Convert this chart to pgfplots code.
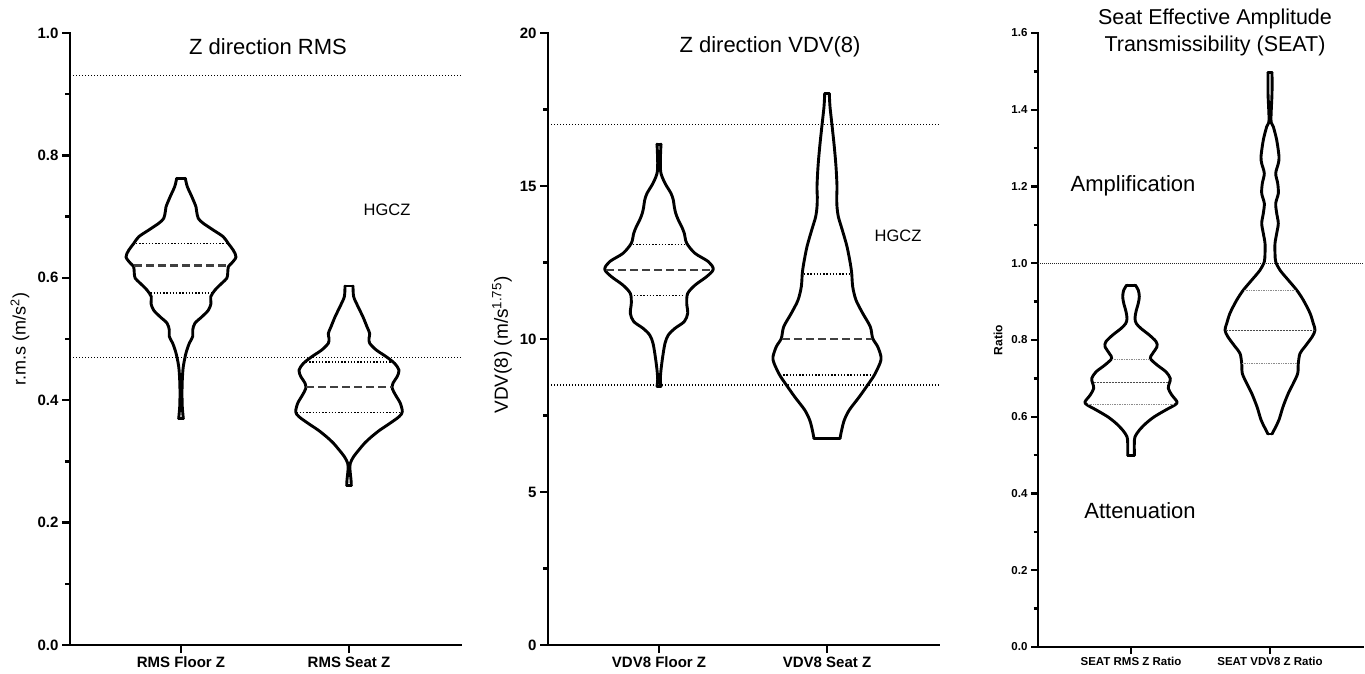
\documentclass[border=0pt]{standalone}
\usepackage{pgfplots}
\usepackage{pgfplotstable}
\pgfplotsset{compat=1.18}
\usepackage{fontspec}
\setmainfont{Liberation Sans}
\newcommand{\fs}[1]{\fontsize{#1}{#1}\selectfont}

% ---- violin outlines: y value, half width (pt) ----
\pgfplotstableread{
y w
0.7625 4.3
0.749 6.3
0.733 10.7
0.716 15
0.708 15.7
0.697 17.3
0.689 22.3
0.678 32.3
0.667 42.3
0.656 47.3
0.645 52.3
0.634 55
0.624 50.7
0.618 47.3
0.607 46.7
0.599 45.7
0.591 40.7
0.580 34
0.569 29.7
0.558 30
0.547 27.3
0.536 20.7
0.526 14
0.515 11.7
0.504 11.7
0.493 8.3
0.477 5
0.455 2.3
0.433 1.3
0.411 1
0.389 1.3
0.370 2.3
}\vRmsFloor

\pgfplotstableread{
y w
0.5866 4
0.569 4.7
0.553 9
0.536 14
0.520 18
0.509 20.7
0.501 20
0.493 20.7
0.482 27.3
0.471 37.3
0.460 45.7
0.449 50
0.438 48
0.428 44
0.419 43.3
0.408 46.7
0.395 51.3
0.381 53.3
0.373 50
0.362 40.7
0.351 30.7
0.340 22.3
0.330 15.7
0.319 10
0.308 4.7
0.297 1.3
0.286 1
0.270 2
0.261 2.3
}\vRmsSeat

\pgfplotstableread{
y w
16.37 2
16.18 1.7
15.74 1.3
15.41 2
15.09 6
14.76 12
14.54 14.3
14.32 15.3
14.11 16.7
13.89 19.3
13.67 22.7
13.45 25.3
13.13 27.7
12.80 36
12.53 49.3
12.28 54.3
12.04 47.7
11.76 36
11.49 28.7
11.17 27.7
10.84 28.7
10.57 25.3
10.35 16
10.13 9.3
9.86 6
9.42 3.7
8.99 2
8.66 1.3
8.46 2
}\vVdvFloor

\pgfplotstableread{
y w
18.01 2.3
17.59 3
16.99 5
16.28 7.3
15.63 9
14.98 10
14.65 9.7
14.32 10
14.00 11.3
13.56 15.3
13.02 20
12.47 23.3
12.15 24.7
11.71 25.7
11.27 29
10.84 35.7
10.40 43.3
10.02 45.7
9.75 50.7
9.42 54
9.21 53
8.82 47.3
8.50 40.7
8.11 32.3
7.68 22.3
7.35 17.3
7.03 14.7
6.75 13
}\vVdvSeat

\pgfplotstableread{
y w
0.943 4.3
0.930 7.3
0.913 8.3
0.896 7.3
0.874 5
0.856 4
0.843 5.3
0.830 10
0.813 18.3
0.796 25
0.783 26
0.765 21.7
0.752 19.3
0.735 26
0.717 35
0.700 39.3
0.687 38.3
0.674 37.3
0.657 40.7
0.639 46
0.631 44
0.618 35
0.600 23.3
0.583 15
0.565 8.3
0.548 4
0.531 3.3
0.513 3.3
0.500 3.3
}\vSeatRms

\pgfplotstableread{
y w
1.497 2
1.443 2
1.373 1
1.356 3.3
1.321 6.7
1.278 9
1.260 8.3
1.234 5.7
1.208 7.7
1.182 8.3
1.156 5.7
1.130 6.7
1.104 8.3
1.078 6.7
1.052 5
1.026 5
1.004 5.7
0.982 10
0.956 18.3
0.930 26.7
0.904 33.3
0.870 40
0.843 43.3
0.826 45
0.809 42.3
0.783 35
0.765 30
0.739 28.3
0.713 27.7
0.687 23.3
0.661 18.3
0.626 13
0.592 9
0.570 5
0.555 2
}\vSeatVdv

\pgfplotsset{
 vpanel/.style={
  scale only axis, anchor=south west,
  axis lines=left, axis line style={-, line width=2.8pt, line cap=rect},
  enlargelimits=false, clip=false,
  tick align=outside, tick style={black, line width=2.4pt},
  major tick length=8pt, minor tick length=5pt,
  minor y tick num=1,
  ticklabel style={font=\bfseries\fs{15}},
  xmin=0,
 },
 vio/.style={black, line width=2.9pt, smooth, tension=0.5, line join=round, line cap=round},
 edge/.style={black, line width=2.9pt, line cap=round},
 refl/.style={black, line width=1.3pt, dash pattern=on 1.2pt off 1.8pt},
 med/.style={black!75, line width=2.2pt, dash pattern=on 8pt off 4pt},
 qrt/.style={black, line width=1.6pt, dash pattern=on 1.4pt off 1.8pt},
 refthin/.style={black!85, line width=1.1pt, dash pattern=on 0.9pt off 1.1pt},
 medthin/.style={black!70, line width=1.1pt, dash pattern=on 2pt off 1pt},
 qrtthin/.style={black!45, line width=1pt, dash pattern=on 1pt off 0.7pt},
}
\newcommand{\violin}[2]{%
 \addplot[vio] table[x expr=#1+\thisrow{w}, y=y] {#2};
 \addplot[vio] table[x expr=#1-\thisrow{w}, y=y] {#2};
}

\begin{document}
\begin{tikzpicture}
\useasboundingbox (0,0) rectangle (1365pt,673pt);

% ---------------- Panel 1 ----------------
\begin{axis}[vpanel, at={(70pt,28pt)}, width=391pt, height=612pt,
  xmax=391, ymin=0, ymax=1,
  ytick={0,0.2,0.4,0.6,0.8,1.0}, yticklabels={0.0,0.2,0.4,0.6,0.8,1.0},
  xtick={111,279}, xticklabels={RMS Floor Z, RMS Seat Z}]
 \addplot[refl] coordinates {(0,0.93) (391,0.93)};
 \addplot[refl] coordinates {(0,0.47) (391,0.47)};
 \violin{111}{\vRmsFloor}
 \addplot[edge] coordinates {(106.7,0.7625) (115.3,0.7625)};
 \addplot[edge] coordinates {(108.7,0.370) (113.3,0.370)};
 \addplot[qrt] coordinates {(66,0.656) (156,0.656)};
 \addplot[med] coordinates {(64,0.620) (158,0.620)};
 \addplot[qrt] coordinates {(80.3,0.575) (141.7,0.575)};
 \violin{279}{\vRmsSeat}
 \addplot[edge] coordinates {(275,0.5866) (283,0.5866)};
 \addplot[edge] coordinates {(276.7,0.261) (281.3,0.261)};
 \addplot[qrt] coordinates {(236,0.462) (322,0.462)};
 \addplot[med] coordinates {(236.3,0.421) (321.7,0.421)};
 \addplot[qrt] coordinates {(226.5,0.380) (331.5,0.380)};
\end{axis}

% ---------------- Panel 2 ----------------
\begin{axis}[vpanel, at={(548pt,28pt)}, width=391pt, height=612pt,
  xmax=391, ymin=0, ymax=20,
  ytick={0,5,10,15,20}, yticklabels={0,5,10,15,20},
  xtick={111,279}, xticklabels={VDV8 Floor Z, VDV8 Seat Z}]
 \addplot[refl] coordinates {(0,17) (391,17)};
 \addplot[refl] coordinates {(0,8.5) (391,8.5)};
 \violin{111}{\vVdvFloor}
 \addplot[edge] coordinates {(109,16.37) (113,16.37)};
 \addplot[edge] coordinates {(109,8.46) (113,8.46)};
 \addplot[qrt] coordinates {(85,13.09) (137,13.09)};
 \addplot[med] coordinates {(58.3,12.25) (163.7,12.25)};
 \addplot[qrt] coordinates {(85.7,11.42) (136.3,11.42)};
 \violin{279}{\vVdvSeat}
 \addplot[edge] coordinates {(276.7,18.01) (281.3,18.01)};
 \addplot[edge] coordinates {(266,6.75) (292,6.75)};
 \addplot[qrt] coordinates {(256,12.12) (302,12.12)};
 \addplot[med] coordinates {(234,10.0) (324,10.0)};
 \addplot[qrt] coordinates {(232,8.82) (326,8.82)};
\end{axis}

% ---------------- Panel 3 ----------------
\begin{axis}[vpanel, at={(1038pt,26pt)}, width=325pt, height=614pt,
  xmax=325, ymin=0, ymax=1.6,
  major tick length=7pt, minor tick length=4.5pt,
  ticklabel style={font=\bfseries\fs{11.5}},
  ytick={0,0.2,0.4,0.6,0.8,1.0,1.2,1.4,1.6},
  yticklabels={0.0,0.2,0.4,0.6,0.8,1.0,1.2,1.4,1.6},
  xtick={93,232}, xticklabels={SEAT RMS Z Ratio, SEAT VDV8 Z Ratio}]
 \addplot[refthin] coordinates {(0,1.0) (325,1.0)};
 \violin{93}{\vSeatRms}
 \addplot[edge] coordinates {(88.7,0.943) (97.3,0.943)};
 \addplot[edge] coordinates {(89.7,0.500) (96.3,0.500)};
 \addplot[qrtthin] coordinates {(74,0.750) (112,0.750)};
 \addplot[medthin] coordinates {(55.5,0.690) (130.5,0.690)};
 \addplot[qrtthin] coordinates {(50,0.631) (136,0.631)};
 \violin{232}{\vSeatVdv}
 \addplot[edge] coordinates {(230,1.497) (234,1.497)};
 \addplot[edge] coordinates {(230,0.555) (234,0.555)};
 \addplot[qrtthin] coordinates {(206,0.928) (258,0.928)};
 \addplot[medthin] coordinates {(187.5,0.824) (276.5,0.824)};
 \addplot[qrtthin] coordinates {(204,0.739) (260,0.739)};
\end{axis}

% ---------------- texts ----------------
\node[font=\fs{22}] at (268pt,626pt) {Z direction RMS};
\node[font=\fs{16.5}] at (387pt,463pt) {HGCZ};
\node[font=\fs{18}, rotate=90] at (20pt,334pt) {r.m.s (m/s\textsuperscript{2})};

\node[font=\fs{22}] at (770pt,626pt) {Z direction VDV(8)};
\node[font=\fs{16.5}] at (898pt,437pt) {HGCZ};
\node[font=\fs{19}, rotate=90] at (502pt,328pt) {VDV(8) (m/s\textsuperscript{1.75})};

\node[font=\fontsize{21.5}{27}\selectfont, align=center] at (1215pt,641pt) {Seat Effective Amplitude\\Transmissibility (SEAT)};
\node[font=\fs{22}] at (1133pt,487pt) {Amplification};
\node[font=\fs{22}] at (1140pt,162pt) {Attenuation};
\node[font=\bfseries\fs{12}, rotate=90] at (998pt,333pt) {Ratio};
\end{tikzpicture}
\end{document}
